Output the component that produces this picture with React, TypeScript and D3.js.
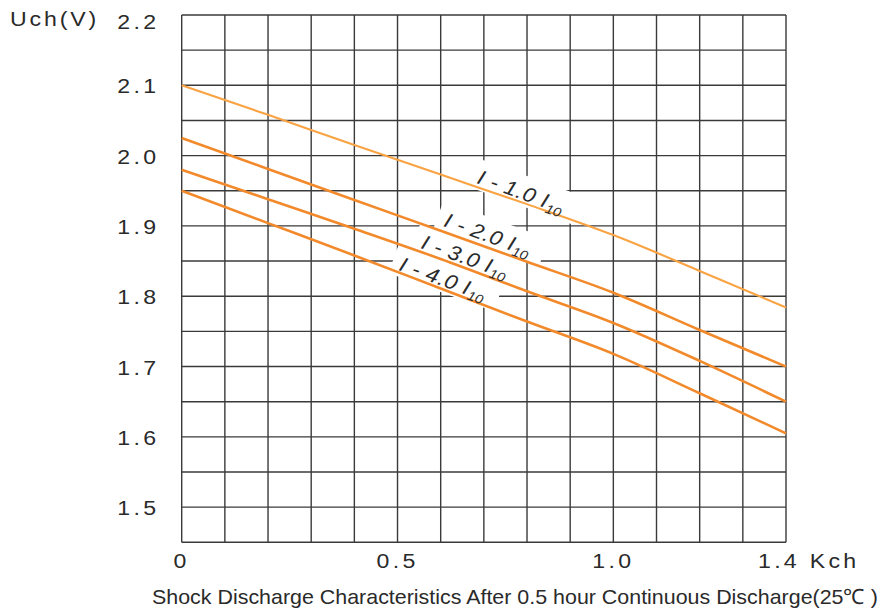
import React from "react";
import * as d3 from "d3";

// ---- data ----
const xSamples = [0, 0.2, 0.4, 0.6, 0.8, 1.0, 1.2, 1.4];
const seriesNames = ["I - 1.0 I", "I - 2.0 I", "I - 3.0 I", "I - 4.0 I"];
const seriesSub = ["10", "10", "10", "10"];
const curve10 = [2.1, 2.058, 2.015, 1.973, 1.931, 1.887, 1.836, 1.784];
const curve20 = [2.025, 1.981, 1.937, 1.893, 1.849, 1.805, 1.752, 1.7];
const curve30 = [1.98, 1.938, 1.896, 1.853, 1.807, 1.762, 1.708, 1.65];
const curve40 = [1.95, 1.904, 1.858, 1.811, 1.764, 1.718, 1.662, 1.605];
const seriesValues = [curve10, curve20, curve30, curve40];
const labelX = [0.682, 0.605, 0.552, 0.501];
const labelV = [1.961, 1.9, 1.8686, 1.8373];

const yTicks = [2.2, 2.1, 2.0, 1.9, 1.8, 1.7, 1.6, 1.5];
const yTickLabels = ["2.2", "2.1", "2.0", "1.9", "1.8", "1.7", "1.6", "1.5"];
const xTicks = [0, 0.5, 1.0];
const xTickLabels = ["0", "0.5", "1.0"];
const xLastTick = 1.4;
const xLastLabel = "1.4 Kch";
const yAxisTitle = "Uch(V)";
const chartTitle = "Shock Discharge Characteristics After 0.5 hour Continuous Discharge(25℃ )";

const xGrid = d3.range(0, 15).map((i) => i * 0.1);
const yGrid = d3.range(0, 16).map((i) => 1.45 + i * 0.05);

export default function App() {
  const W = 881;
  const H = 611;
  const x = d3.scaleLinear().domain([0, 1.4]).range([181.7, 786]);
  const y = d3.scaleLinear().domain([1.45, 2.2]).range([542.3, 15]);
  const line = d3
    .line<number>()
    .x((_, i) => x(xSamples[i]))
    .y((d) => y(d))
    .curve(d3.curveMonotoneX);

  const font = "'Liberation Sans', Arial, Helvetica, sans-serif";
  const gridColor = "#3a3a3a";
  const colors = ["#F9A343", "#F28A2C", "#F28A2C", "#F28A2C"];
  const widths = [2.1, 2.6, 2.6, 2.6];
  const angle = 20;
  const sx = 1.1;
  const ls = 3;
  const txt = "#2a2a2a";

  return (
    <svg
      width={W}
      height={H}
      style={{ position: "absolute", left: 0, top: 0, background: "#fff" }}
      fontFamily={font}
    >
      <rect x={0} y={0} width={W} height={H} fill="#fff" />
      {/* grid */}
      <g>
        {xGrid.map((v, i) => (
          <line
            key={"gx" + i}
            x1={x(v)}
            x2={x(v)}
            y1={y(2.2)}
            y2={y(1.45)}
            stroke={gridColor}
            strokeWidth={1.4}
          />
        ))}
        {yGrid.map((v, i) => (
          <line
            key={"gy" + i}
            x1={x(0)}
            x2={x(1.4)}
            y1={y(v)}
            y2={y(v)}
            stroke={gridColor}
            strokeWidth={1.4}
          />
        ))}
      </g>
      {/* label masks */}
      {seriesNames.map((n, i) => (
        <rect
          key={"m" + i}
          transform={`translate(${x(labelX[i])},${y(labelV[i])}) rotate(${angle})`}
          x={-8}
          y={-24}
          width={112}
          height={30}
          fill="#fff"
        />
      ))}
      {/* curves */}
      {seriesValues.map((vals, i) => (
        <path
          key={"c" + i}
          d={line(vals) || ""}
          fill="none"
          stroke={colors[i]}
          strokeWidth={widths[i]}
        />
      ))}
      {/* curve labels */}
      {seriesNames.map((n, i) => (
        <text
          key={"l" + i}
          transform={`translate(${x(labelX[i])},${y(labelV[i])}) rotate(${angle}) scale(1.1,1)`}
          fontSize={20.5}
          fontStyle="italic"
          letterSpacing={0.4}
          fill={txt}
        >
          {n}
          <tspan fontSize={13} dy={4} letterSpacing={0}>
            {seriesSub[i]}
          </tspan>
        </text>
      ))}
      {/* y tick labels */}
      {yTicks.map((v, i) => (
        <text
          key={"yt" + i}
          transform={`translate(${155 + ls * sx + 1},${Math.max(y(v) + 8, 29.3)}) scale(${sx},1)`}
          textAnchor="end"
          fontSize={21}
          letterSpacing={ls}
          fill={txt}
        >
          {yTickLabels[i]}
        </text>
      ))}
      <text
        transform={`translate(10,25.8) scale(${sx},1)`}
        fontSize={21}
        letterSpacing={2.6}
        fill={txt}
      >
        {yAxisTitle}
      </text>
      {/* x tick labels */}
      {xTicks.map((v, i) => (
        <text
          key={"xt" + i}
          transform={`translate(${x(v)},568) scale(${sx},1)`}
          textAnchor="middle"
          fontSize={21}
          letterSpacing={ls}
          fill={txt}
        >
          {xTickLabels[i]}
        </text>
      ))}
      <text
        transform={`translate(${x(xLastTick) - 28},568) scale(${sx},1)`}
        fontSize={21}
        letterSpacing={ls}
        fill={txt}
      >
        {xLastLabel}
      </text>
      <text
        x={152}
        y={604}
        fontSize={21}
        textLength={726}
        lengthAdjust="spacingAndGlyphs"
        fill={txt}
      >
        {chartTitle}
      </text>
    </svg>
  );
}
